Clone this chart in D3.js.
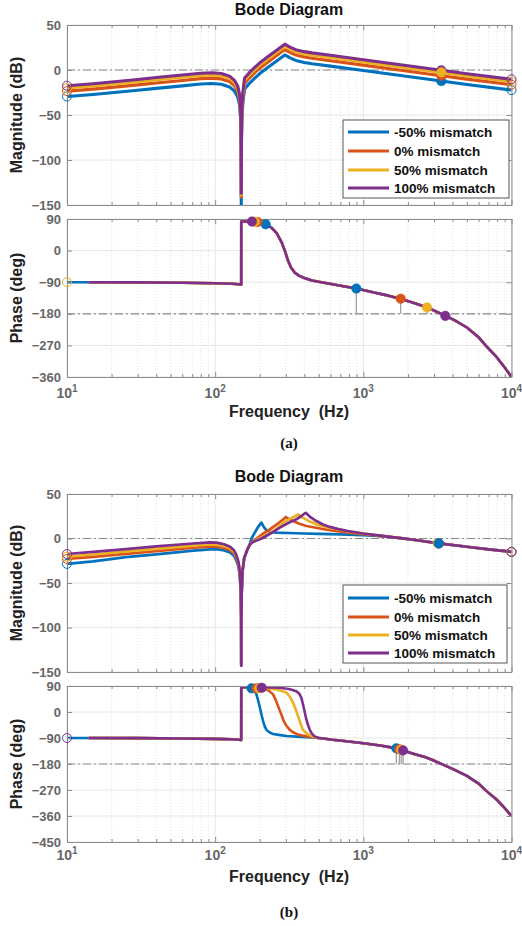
<!DOCTYPE html>
<html>
<head>
<meta charset="utf-8">
<script src="https://cdn.jsdelivr.net/npm/d3@7"></script>
<style>
  body { margin: 0; background: #fff; }
</style>
</head>
<body>
<div id="chart"></div>
<script>

const WIDTH = 522, HEIGHT = 926;

const seriesNames = ["-50% mismatch", "0% mismatch", "50% mismatch", "100% mismatch"];
const colors = ["#0072BD", "#D95319", "#EDB120", "#7E2F8E"];

const freqTicks = [10, 100, 1000, 10000];
const magTicks = [50, 0, -50, -100, -150];
const phaseTicksA = [90, 0, -90, -180, -270, -360];
const phaseTicksB = [90, 0, -90, -180, -270, -360, -450];

// ---- (a) magnitude, [Hz, dB]
const magA_m50 = [[10,-29.5],[15,-27.2],[20,-25.3],[30,-22.5],[40,-20.4],[60,-17.6],[80,-15.6],[95,-15.0],[110,-15.9],[125,-18.8],[135,-23.5],[142,-30],[146,-39],[148.5,-55],[149.6,-85],[150,-150],[150.4,-85],[151.5,-55],[154,-36],[158,-21],[170,-15],[185,-9],[200,-4],[230,3.5],[260,10],[295,16.7],[320,13.5],[350,10.6],[400,8.4],[450,7.0],[600,4.3],[1000,-0.6],[2000,-7.3],[3360,-12.3],[5000,-16.1],[10000,-22.3]];
const magA_0 = [[10,-23.5],[15,-21.2],[20,-19.3],[30,-16.5],[40,-14.4],[60,-11.6],[80,-9.6],[95,-9.0],[110,-9.9],[125,-12.8],[135,-17.5],[142,-24],[146,-33],[148.5,-49],[149.6,-79],[150,-141],[150.4,-79],[151.5,-49],[154,-30],[158,-15],[170,-9],[185,-3],[200,2],[230,9.5],[260,16],[295,22.7],[320,19.5],[350,16.6],[400,14.4],[450,13.0],[600,10.3],[1000,5.4],[2000,-1.3],[3360,-6.3],[5000,-10.1],[10000,-16.3]];
const magA_50 = [[10,-20],[15,-17.7],[20,-15.8],[30,-13],[40,-10.9],[60,-8.1],[80,-6.1],[95,-5.5],[110,-6.4],[125,-9.3],[135,-14],[142,-20.5],[146,-29.5],[148.5,-45.5],[149.6,-75.5],[150,-139],[150.4,-75.5],[151.5,-45.5],[154,-26.5],[158,-11.5],[170,-5.5],[185,0.5],[200,5.5],[230,13],[260,19.5],[295,26.2],[320,23],[350,20.1],[400,17.9],[450,16.5],[600,13.8],[1000,8.9],[2000,2.2],[3360,-2.8],[5000,-6.6],[10000,-12.8]];
const magA_100 = [[10,-17.5],[15,-15.2],[20,-13.3],[30,-10.5],[40,-8.4],[60,-5.6],[80,-3.6],[95,-3.0],[110,-3.9],[125,-6.8],[135,-11.5],[142,-18],[146,-27],[148.5,-43],[149.6,-73],[150,-137],[150.4,-73],[151.5,-43],[154,-24],[158,-9],[170,-3],[185,3],[200,8],[230,15.5],[260,22],[295,28.7],[320,25.5],[350,22.6],[400,20.4],[450,19.0],[600,16.3],[1000,11.4],[2000,4.7],[3360,-0.3],[5000,-4.1],[10000,-10.3]];

// ---- (a) phase, same for all four, [Hz, deg]
const phaseA = [[10,-90],[30,-90.5],[60,-91.5],[100,-93],[130,-94.5],[145,-96],[149.9,-97],[150,83],[170,83],[190,82],[210,78],[225,73],[240,65],[260,50],[280,25],[295,0],[310,-28],[325,-48],[345,-63],[370,-72],[400,-78],[450,-85],[520,-90],[620,-96],[750,-102],[900,-108],[1200,-120],[1500,-129],[1800,-138],[2200,-149],[2700,-162],[3200,-176],[3600,-186],[4200,-200],[5000,-219],[6000,-247],[6760,-272],[8000,-305],[9000,-333],[10000,-360]];

// margin markers (a)
const gmA = [[3360,-12.3],[3360,-6.3],[3360,-2.6],[3360,-0.4]];
const pmA1 = [[219,75],[193,81.5],[185,82.3],[177,82.7]];
const pmA2 = [[897,-108],[1787,-137],[2690,-162],[3575,-186]];

// ---- (b) magnitude
const magB_tail = [[1670,1.0],[1900,-0.2],[2300,-2],[3230,-5.5],[5000,-9.3],[7000,-12.3],[10000,-15]];
const magB_m50 = [[10,-28.5],[15,-25.8],[25,-21],[40,-17.8],[71,-13.7],[92,-12.2],[102,-11.9],[115,-13.5],[126,-15.6],[134,-19.5],[139,-24.8],[144,-32.5],[147,-44],[149,-63],[149.8,-92],[150,-143],[150.3,-92],[151,-62],[153,-37],[157,-22],[165,-12.5],[171,-6.5],[176,0],[185,6.5],[195,13],[205,17.8],[212,13.5],[220,10],[235,7.5],[259,6.7],[353,5.9],[500,5.2],[700,4.6],[1000,3.7],[1300,2.5]];
const magB_0 = [[10,-23],[15,-20.6],[25,-17.2],[40,-14.2],[71,-10.4],[92,-9.1],[102,-9.1],[115,-10.7],[126,-13.1],[134,-16.8],[139,-21.6],[144,-29.5],[147,-41.5],[149,-61],[149.8,-90.5],[150,-141],[150.3,-90.5],[151,-61],[153,-36.5],[157,-22],[165,-12.5],[171,-7],[180,-3],[190,0],[211,5.5],[235,10.5],[259,15.5],[280,20],[300,24],[318,21.5],[336,19.6],[370,16.5],[413,14],[500,11.5],[593,9.3],[800,6.6],[1000,4.8],[1300,2.9]];
const magB_50 = [[10,-20.5],[15,-18],[25,-14.6],[40,-11.6],[71,-7.9],[92,-6.7],[102,-6.8],[115,-8.5],[126,-11],[134,-14.8],[139,-19.8],[144,-28],[147,-40.5],[149,-60.5],[149.8,-90],[150,-142],[150.3,-90],[151,-61],[153,-36.5],[157,-22],[165,-12.5],[171,-7],[180,-3.5],[198,0],[230,5.5],[260,11],[288,17.8],[320,22],[363,27],[390,23.5],[430,19.5],[500,15],[593,12.2],[800,7.8],[1000,5.6],[1300,3.2]];
const magB_100 = [[10,-17.4],[15,-15],[25,-11.9],[40,-8.9],[71,-5.6],[92,-4.4],[102,-4.6],[115,-6.5],[126,-9.2],[134,-13.2],[139,-18.5],[144,-27],[147,-39.5],[149,-59.5],[149.8,-89.5],[150,-143],[150.3,-89.5],[151,-61],[153,-36.5],[157,-22],[165,-12.5],[171,-7],[180,-4],[206,0],[230,4.5],[250,8],[273,12.2],[300,16],[330,19.5],[353,21.5],[380,25],[408,28.9],[440,24],[482,19.6],[530,16],[593,13],[680,10.5],[769,8.5],[1000,5.6],[1300,3.2]];

// ---- (b) phase
const phaseB_head = [[10,-90],[30,-90.5],[60,-91.5],[100,-93],[130,-94.5],[145,-96],[149.9,-97]];
const phaseB_tail = [[520,-91],[620,-96],[770,-101],[1000,-108],[1300,-116],[1670,-126],[1855,-133],[2200,-145],[2600,-156],[2960,-167],[3300,-178],[4000,-197],[5000,-221],[6000,-248],[6760,-273],[8000,-305],[9000,-333],[10000,-360]];
const phaseB_m50 = [[150,87],[165,86],[176,83],[185,72],[190,61],[196,35],[202,8],[206,-12],[211,-33],[216,-50],[222,-62],[235,-72],[246,-76],[275,-80],[303,-83],[380,-86],[457,-88]];
const phaseB_0 = [[150,87],[175,85],[211,81],[230,74],[246,61],[256,42],[266,20],[277,-3],[288,-27],[300,-45],[319,-62],[340,-72],[372,-80],[420,-85],[480,-89]];
const phaseB_50 = [[150,87],[175,86],[220,83],[260,78],[285,72],[303,67],[320,52],[336,32],[350,8],[363,-15],[378,-42],[392,-62],[420,-77],[460,-86],[495,-89.5]];
const phaseB_100 = [[150,87],[200,86],[273,84],[320,79],[353,72],[370,63],[382,49],[392,25],[400,5],[408,-15],[420,-40],[435,-62],[450,-75],[470,-85],[494,-89]];

// margin markers (b)
const gmB = [[3230,-5.5],[3230,-5.5],[3180,-5.3],[3230,-5.5]];
const pmB1 = [[176,82],[190,82],[198,82],[206,84]];
const pmB2 = [[1670,-126],[1750,-129],[1800,-131],[1855,-133]];


const svg = d3.select("#chart")
    .append("svg")
    .attr("width", WIDTH)
    .attr("height", HEIGHT)
    .style("font-family", "'Liberation Sans', Arial, sans-serif");

const x = d3.scaleLog()
    .domain([10, 10000])
    .range([67, 511.5]);

const AXIS_GRAY = "#8c8c8c";
const TICK_TEXT = "#666";

function drawAxes(cfg) {
    const y = d3.scaleLinear().domain(cfg.domain).range([cfg.bottom, cfg.top]);
    const g = svg.append("g");
    const x0 = x.range()[0], x1 = x.range()[1];

    // minor x grid (dotted)
    const minor = x.ticks().filter(f => !freqTicks.includes(f));
    g.append("g").selectAll("line")
        .data(minor).join("line")
        .attr("x1", d => x(d)).attr("x2", d => x(d))
        .attr("y1", cfg.top).attr("y2", cfg.bottom)
        .attr("stroke", "#e2e2e2")
        .attr("stroke-dasharray", "1,2");

    // major grid
    g.append("g").selectAll("line")
        .data(freqTicks).join("line")
        .attr("x1", d => x(d)).attr("x2", d => x(d))
        .attr("y1", cfg.top).attr("y2", cfg.bottom)
        .attr("stroke", "#e6e6e6");
    g.append("g").selectAll("line")
        .data(cfg.ticks).join("line")
        .attr("x1", x0).attr("x2", x1)
        .attr("y1", d => y(d)).attr("y2", d => y(d))
        .attr("stroke", "#e6e6e6");

    // reference line (0 dB / -180 deg)
    g.append("line")
        .attr("x1", x0).attr("x2", x1)
        .attr("y1", y(cfg.ref)).attr("y2", y(cfg.ref))
        .attr("stroke", "#8a8a8a")
        .attr("stroke-width", 1.2)
        .attr("stroke-dasharray", "8,3,2,3");

    svg.append("clipPath").attr("id", cfg.id)
        .append("rect")
        .attr("x", x0).attr("y", cfg.top)
        .attr("width", x1 - x0).attr("height", cfg.bottom - cfg.top);

    const line = d3.line().x(d => x(d[0])).y(d => y(d[1]));
    const cg = g.append("g").attr("clip-path", `url(#${cfg.id})`);

    cfg.series.forEach((s, i) => {
        cg.append("path")
            .attr("d", line(s))
            .attr("fill", "none")
            .attr("stroke", colors[i])
            .attr("stroke-width", cfg.lw)
            .attr("stroke-linejoin", "round");
    });

    // axes (ticks inside, box)
    const styleAxis = sel => {
        sel.select(".domain").attr("stroke", AXIS_GRAY);
        sel.selectAll(".tick line").attr("stroke", AXIS_GRAY);
        sel.selectAll(".tick text")
            .attr("fill", TICK_TEXT)
            .style("font-size", "13px")
            .style("font-weight", "bold");
    };
    g.append("g").attr("transform", `translate(0,${cfg.bottom})`)
        .call(d3.axisBottom(x).tickValues(minor).tickSizeInner(-3).tickSizeOuter(0).tickFormat(""))
        .call(styleAxis);
    g.append("g").attr("transform", `translate(0,${cfg.top})`)
        .call(d3.axisTop(x).tickValues(minor).tickSizeInner(-3).tickSizeOuter(0).tickFormat(""))
        .call(styleAxis);
    g.append("g").attr("transform", `translate(0,${cfg.bottom})`)
        .call(d3.axisBottom(x).tickValues(freqTicks).tickSizeInner(-5).tickSizeOuter(0).tickFormat(""))
        .call(styleAxis);
    g.append("g").attr("transform", `translate(0,${cfg.top})`)
        .call(d3.axisTop(x).tickValues(freqTicks).tickSizeInner(-5).tickSizeOuter(0).tickFormat(""))
        .call(styleAxis);
    g.append("g").attr("transform", `translate(${x0},0)`)
        .call(d3.axisLeft(y).tickValues(cfg.ticks).tickSizeInner(-5).tickSizeOuter(0).tickPadding(6))
        .call(styleAxis);
    g.append("g").attr("transform", `translate(${x1},0)`)
        .call(d3.axisRight(y).tickValues(cfg.ticks).tickSizeInner(-5).tickSizeOuter(0).tickFormat(""))
        .call(styleAxis);

    // y label
    svg.append("text")
        .attr("transform", `translate(22,${(cfg.top + cfg.bottom) / 2}) rotate(-90)`)
        .attr("text-anchor", "middle")
        .attr("fill", "#222")
        .style("font-size", "16px")
        .style("font-weight", "bold")
        .text(cfg.label);

    return { g, y, cg };
}

function addStems(ax, pts, ref) {
    ax.g.append("g").selectAll("line")
        .data(pts).join("line")
        .attr("x1", d => x(d[0])).attr("x2", d => x(d[0]))
        .attr("y1", d => ax.y(d[1])).attr("y2", ax.y(ref))
        .attr("stroke", "#9a9a9a")
        .attr("stroke-width", 1.2);
}

function addDots(ax, pts, order, filled) {
    ax.g.append("g").selectAll("circle")
        .data(order.map(i => ({ p: pts[i], i: i }))).join("circle")
        .attr("cx", d => x(d.p[0]))
        .attr("cy", d => ax.y(d.p[1]))
        .attr("r", filled ? 4.8 : 4.5)
        .attr("fill", d => filled ? colors[d.i] : "none")
        .attr("stroke", d => colors[d.i])
        .attr("stroke-width", filled ? 0.5 : 1);
}

function addFreqLabels(yBase, labelY) {
    const t = svg.append("g").selectAll("text")
        .data(freqTicks).join("text")
        .attr("x", d => x(d))
        .attr("y", yBase)
        .attr("text-anchor", "middle")
        .attr("fill", TICK_TEXT)
        .style("font-size", "14px")
        .style("font-weight", "bold");
    t.append("tspan").text("10");
    t.append("tspan").attr("dy", -6).style("font-size", "10px").text(d => Math.round(Math.log10(d)));

    svg.append("text")
        .attr("x", 289).attr("y", labelY)
        .attr("text-anchor", "middle")
        .attr("fill", "#222")
        .style("font-size", "16px")
        .style("font-weight", "bold")
        .style("white-space", "pre")
        .text("Frequency  (Hz)");
}

function addTitle(yBase) {
    svg.append("text")
        .attr("x", 289).attr("y", yBase)
        .attr("text-anchor", "middle")
        .attr("fill", "#111")
        .style("font-size", "16px")
        .style("font-weight", "bold")
        .text("Bode Diagram");
}

function addCaption(txt, yBase) {
    svg.append("text")
        .attr("x", 289).attr("y", yBase)
        .attr("text-anchor", "middle")
        .attr("fill", "#111")
        .style("font-family", "'Liberation Serif', 'Times New Roman', serif")
        .style("font-size", "15px")
        .style("font-weight", "bold")
        .text(txt);
}

function addLegend(left, top, w, h, rows) {
    const lg = svg.append("g");
    lg.append("rect")
        .attr("x", left).attr("y", top)
        .attr("width", w).attr("height", h)
        .attr("fill", "#fff")
        .attr("stroke", "#555")
        .attr("stroke-width", 1);
    const item = lg.selectAll("g.item")
        .data(seriesNames).join("g")
        .attr("class", "item")
        .attr("transform", (d, i) => `translate(0,${rows[i]})`);
    item.append("line")
        .attr("x1", left + 5).attr("x2", left + 46)
        .attr("stroke", (d, i) => colors[i])
        .attr("stroke-width", 3);
    item.append("text")
        .attr("x", left + 51).attr("y", 5)
        .attr("fill", "#111")
        .style("font-size", "13.5px")
        .style("font-weight", "bold")
        .text(d => d);
}

// ================= (a) =================
addTitle(15);

const magAx_A = drawAxes({
    id: "clipMagA", top: 25, bottom: 205, domain: [-150, 50], ticks: magTicks, ref: 0,
    lw: 3.1, label: "Magnitude (dB)",
    series: [magA_m50, magA_0, magA_50, magA_100]
});
addDots(magAx_A, [magA_m50[0], magA_0[0], magA_50[0], magA_100[0]], [0, 1, 2, 3], false);
addDots(magAx_A, [magA_m50[magA_m50.length - 1], magA_0[magA_0.length - 1], magA_50[magA_50.length - 1], magA_100[magA_100.length - 1]], [0, 1, 2, 3], false);
addDots(magAx_A, gmA, [0, 1, 3, 2], true);

const phAx_A = drawAxes({
    id: "clipPhA", top: 219, bottom: 377, domain: [-360, 90], ticks: phaseTicksA, ref: -180,
    lw: 2.6, label: "Phase (deg)",
    series: [phaseA, [[14, -90.1]].concat(phaseA.slice(1)), [[14, -90.1]].concat(phaseA.slice(1)), [[14, -90.1]].concat(phaseA.slice(1))]
});
addStems(phAx_A, pmA2, -180);
addDots(phAx_A, [[10, -90], [10, -90], [10, -90], [10, -90]], [2], false);
addDots(phAx_A, pmA1, [0, 1, 2, 3], true);
addDots(phAx_A, pmA2, [0, 1, 2, 3], true);

addFreqLabels(398, 417);
addCaption("(a)", 448);
addLegend(343, 120, 166, 78, [132, 151, 170, 188]);

// ================= (b) =================
addTitle(482);

const magAx_B = drawAxes({
    id: "clipMagB", top: 494, bottom: 672, domain: [-150, 50], ticks: magTicks, ref: 0,
    lw: 2.7, label: "Magnitude (dB)",
    series: [magB_m50.concat(magB_tail), magB_0.concat(magB_tail), magB_50.concat(magB_tail), magB_100.concat(magB_tail)]
});
addDots(magAx_B, [magB_m50[0], magB_0[0], magB_50[0], magB_100[0]], [0, 1, 2, 3], false);
addDots(magAx_B, [magB_tail[magB_tail.length - 1], magB_tail[magB_tail.length - 1], magB_tail[magB_tail.length - 1], magB_tail[magB_tail.length - 1]], [0, 1, 2, 3], false);
addDots(magAx_B, gmB, [3, 2, 1, 0], true);

const phAx_B = drawAxes({
    id: "clipPhB", top: 686, bottom: 842, domain: [-450, 90], ticks: phaseTicksB, ref: -180,
    lw: 2.6, label: "Phase (deg)",
    series: [
        phaseB_head.concat(phaseB_m50, phaseB_tail),
        [[14, -90.1]].concat(phaseB_head.slice(1), phaseB_0, phaseB_tail),
        [[14, -90.1]].concat(phaseB_head.slice(1), phaseB_50, phaseB_tail),
        [[14, -90.1]].concat(phaseB_head.slice(1), phaseB_100, phaseB_tail)
    ]
});
addStems(phAx_B, pmB2, -180);
addDots(phAx_B, [[10, -90], [10, -90], [10, -90], [10, -90]], [3], false);
addDots(phAx_B, pmB1, [0, 1, 2, 3], true);
addDots(phAx_B, pmB2, [0, 1, 2, 3], true);

addFreqLabels(860, 882);
addCaption("(b)", 917);
addLegend(343, 585, 164, 78, [598, 617, 635, 653]);

</script>
</body>
</html>
